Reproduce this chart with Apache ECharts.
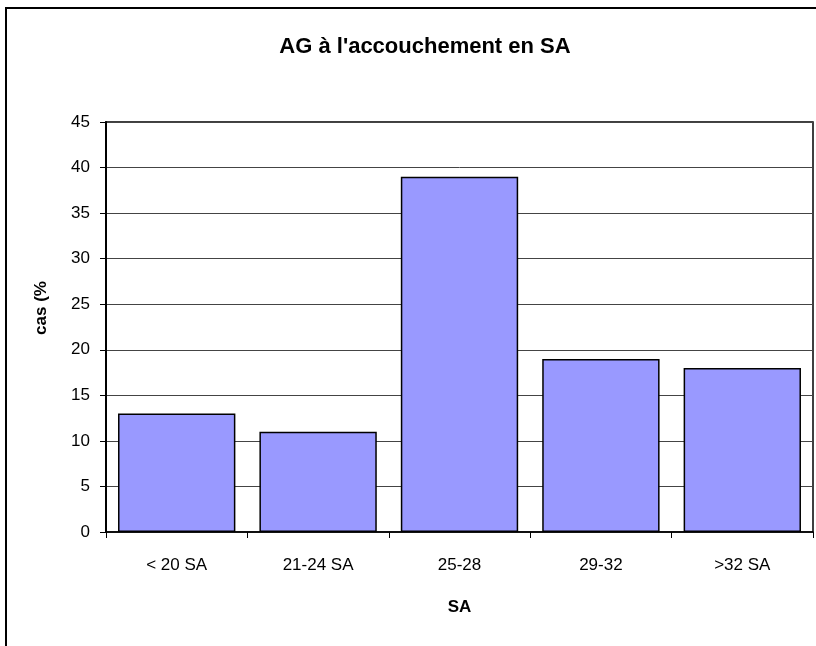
<!DOCTYPE html>
<html><head><meta charset="utf-8">
<script src="https://cdn.jsdelivr.net/npm/echarts@6/dist/echarts.min.js"></script>
<style>html,body{margin:0;padding:0;background:#fff}#c{width:816px;height:646px}</style>
</head><body><div id="c"></div>
<script>
const categories = ['< 20 SA', '21-24 SA', '25-28', '29-32', '>32 SA'];
const values = [13, 11, 39, 19, 18];
const yTicks = [0, 5, 10, 15, 20, 25, 30, 35, 40, 45];
const yName = 'cas (%';

const chart = echarts.init(document.getElementById('c'), null, {renderer: 'canvas'});
const font = 'Liberation Sans, Arial, sans-serif';
chart.setOption({
  animation: false,
  backgroundColor: '#fff',
  title: {
    text: "AG à l'accouchement en SA",
    left: 420, top: 31, textAlign: 'center',
    textStyle: {fontFamily: font, fontWeight: 'bold', fontSize: 22, color: '#000'}
  },
  graphic: [{
    type: 'rect', shape: {x: 6, y: 8, width: 840, height: 700},
    style: {fill: 'none', stroke: '#000', lineWidth: 2}, silent: true
  }, {
    type: 'text', x: 41, y: 308, rotation: Math.PI / 2, silent: true,
    style: {text: yName, font: 'bold 17px ' + font, fill: '#000', textAlign: 'center', textVerticalAlign: 'middle'}
  }],
  grid: {left: 106, right: 3, top: 122, bottom: 114, show: true, borderColor: '#000', borderWidth: 1.5, backgroundColor: 'transparent'},
  xAxis: {
    type: 'category', data: categories,
    name: 'SA', nameLocation: 'middle', nameGap: 67,
    nameTextStyle: {fontFamily: font, fontWeight: 'bold', fontSize: 17, color: '#000'},
    axisLine: {lineStyle: {color: '#000', width: 1.5}},
    axisTick: {show: true, length: 6, lineStyle: {color: '#000'}},
    axisLabel: {fontFamily: font, fontSize: 17, color: '#000', margin: 25}
  },
  yAxis: {
    type: 'value', min: yTicks[0], max: yTicks[yTicks.length - 1], interval: 5,
    axisLine: {show: true, lineStyle: {color: '#000', width: 2}},
    axisTick: {show: true, length: 6, lineStyle: {color: '#000'}},
    axisLabel: {fontFamily: font, fontSize: 17, color: '#000', margin: 16},
    splitLine: {show: true, lineStyle: {color: '#444', width: 1}}
  },
  series: [{
    type: 'bar', data: values, barCategoryGap: '17%',
    itemStyle: {color: '#9999FF', borderColor: '#000', borderWidth: 1.5}
  }]
});
</script></body></html>
